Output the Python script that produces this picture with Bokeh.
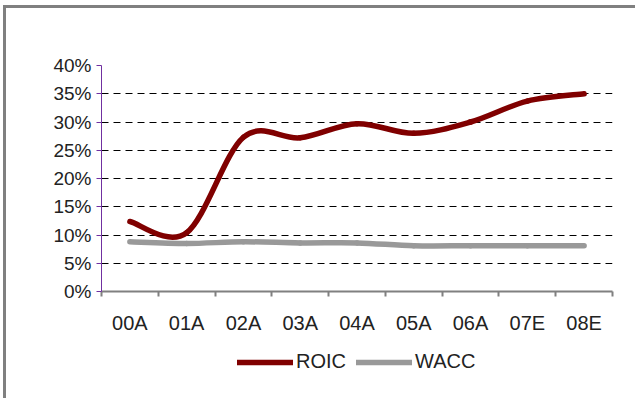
from bokeh.plotting import figure
from bokeh.layouts import column
from bokeh.models import (FixedTicker, PrintfTickFormatter, Legend, LegendItem,
                          ColumnDataSource, Range1d)
from bokeh.embed import file_html
from bokeh.resources import INLINE

# Return on invested capital vs. cost of capital, by year (A = actual, E = estimate)
categories = ["00A", "01A", "02A", "03A", "04A", "05A", "06A", "07E", "08E"]
roic = [12.4, 10.4, 27.3, 27.2, 29.7, 28.0, 30.0, 33.7, 35.0]
wacc = [8.8, 8.5, 8.8, 8.6, 8.6, 8.1, 8.1, 8.1, 8.1]
y_ticks = [0, 5, 10, 15, 20, 25, 30, 35, 40]

FONT = "Liberation Sans"
TEXT_COLOR = "#222222"
ROIC_COLOR = "#800000"
WACC_COLOR = "#999999"

# categories sit at the centres of unit-wide slots
xs = [i + 0.5 for i in range(len(categories))]


def smooth_segments(x, y):
    """Cubic Bezier segments through every point (spreadsheet-style smoothed line)."""
    n = len(x)
    seg = dict(x0=[], y0=[], x1=[], y1=[], cx0=[], cy0=[], cx1=[], cy1=[])
    for i in range(n - 1):
        xp, yp = (x[i - 1], y[i - 1]) if i > 0 else (x[i], y[i])
        xn, yn = (x[i + 2], y[i + 2]) if i + 2 < n else (x[i + 1], y[i + 1])
        seg["x0"].append(x[i]); seg["y0"].append(y[i])
        seg["x1"].append(x[i + 1]); seg["y1"].append(y[i + 1])
        seg["cx0"].append(x[i] + (x[i + 1] - xp) / 6)
        seg["cy0"].append(y[i] + (y[i + 1] - yp) / 6)
        seg["cx1"].append(x[i + 1] - (xn - x[i]) / 6)
        seg["cy1"].append(y[i + 1] - (yn - y[i]) / 6)
    return ColumnDataSource(seg)


p = figure(width=629, height=328, output_backend="svg", toolbar_location=None,
           x_range=Range1d(0, len(categories)), y_range=Range1d(0, 40),
           min_border_left=95, min_border_right=23, min_border_top=57,
           min_border_bottom=45, outline_line_color=None,
           background_fill_color="white", border_fill_color="white")

line_kw = dict(x0="x0", y0="y0", x1="x1", y1="y1", cx0="cx0", cy0="cy0",
               cx1="cx1", cy1="cy1", line_width=5.5, line_cap="round")
p.bezier(source=smooth_segments(xs, roic), line_color=ROIC_COLOR, **line_kw)
p.bezier(source=smooth_segments(xs, wacc), line_color=WACC_COLOR, **line_kw)

# x axis: labels at slot centres, tick marks at slot boundaries
xa = p.xaxis[0]
xa.ticker = FixedTicker(ticks=xs, minor_ticks=list(range(len(categories) + 1)))
xa.major_label_overrides = {x: c for x, c in zip(xs, categories)}
xa.major_tick_out = 0
xa.major_tick_in = 0
xa.minor_tick_out = 5
xa.minor_tick_in = 0
xa.minor_tick_line_color = "#808080"
xa.minor_tick_line_width = 2
xa.axis_line_color = "#808080"
xa.axis_line_width = 2
xa.major_label_standoff = 15
xa.major_label_text_font = FONT
xa.major_label_text_font_size = "20px"
xa.major_label_text_color = TEXT_COLOR

ya = p.yaxis[0]
ya.ticker = FixedTicker(ticks=y_ticks, minor_ticks=[])
ya.formatter = PrintfTickFormatter(format="%d%%")
ya.axis_line_color = "#7030A0"
ya.major_tick_line_color = "#7030A0"
ya.major_tick_out = 5
ya.major_tick_in = 0
ya.major_label_standoff = 5
ya.major_label_text_font = FONT
ya.major_label_text_font_size = "19px"
ya.major_label_text_color = TEXT_COLOR

p.xgrid.visible = False
p.ygrid.ticker = FixedTicker(ticks=y_ticks[1:])
p.ygrid.grid_line_color = "black"
p.ygrid.grid_line_dash = "7 5"
p.ygrid.grid_line_width = 1

# legend strip under the chart; its series lie outside the strip's own view,
# so only the legend samples show
lg = figure(width=629, height=62, output_backend="svg", toolbar_location=None,
            x_range=Range1d(0, 1), y_range=Range1d(0, 1),
            min_border=0, outline_line_color=None, x_axis_location=None,
            y_axis_location=None, background_fill_color="white",
            border_fill_color="white")
lg.grid.visible = False
k_roic = lg.line(xs, roic, line_color=ROIC_COLOR, line_width=5.5, line_cap="round")
k_wacc = lg.line(xs, wacc, line_color=WACC_COLOR, line_width=5.5, line_cap="round")

legend = Legend(items=[LegendItem(label="ROIC", renderers=[k_roic]),
                       LegendItem(label="WACC", renderers=[k_wacc])],
                orientation="horizontal", location=(136, 25),
                border_line_color=None, background_fill_alpha=0,
                padding=0, margin=0, spacing=10, label_standoff=3,
                glyph_width=56, glyph_height=20,
                label_text_font=FONT, label_text_font_size="20px",
                label_text_color=TEXT_COLOR)
lg.add_layout(legend)

# outer chart frame (top and left edges are visible in the window)
layout = column(p, lg, spacing=0,
                styles={"border-top": "3px solid #808080",
                        "border-left": "3px solid #808080",
                        "margin-left": "3px", "margin-top": "5px"})

open("out.html", "w").write(file_html(layout, INLINE))
